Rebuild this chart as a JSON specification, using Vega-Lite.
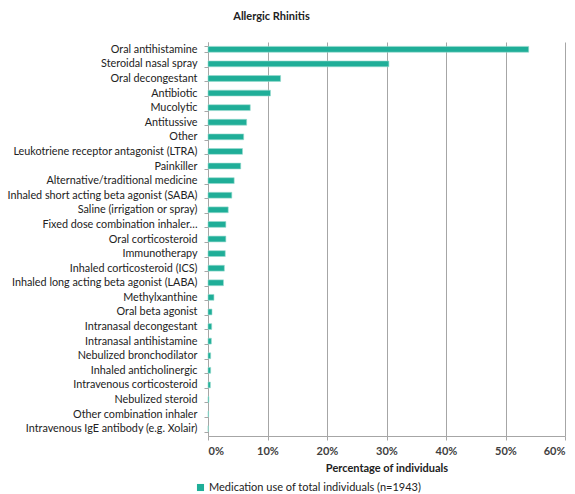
{
  "$schema": "https://vega.github.io/schema/vega-lite/v6.json",
  "width": 357,
  "height": 394,
  "autosize": {"type": "none"},
  "padding": {"left": 208, "top": 42, "right": 10, "bottom": 58},
  "background": "white",
  "title": {"text": "Allergic Rhinitis", "anchor": "middle", "dx": -115, "offset": 14, "font": "Lato", "fontSize": 11, "fontWeight": "bold", "color": "#222222"},
  "data": {"values": [
    {"medication": "Oral antihistamine", "pct": 53.9},
    {"medication": "Steroidal nasal spray", "pct": 30.4},
    {"medication": "Oral decongestant", "pct": 12.2},
    {"medication": "Antibiotic", "pct": 10.5},
    {"medication": "Mucolytic", "pct": 7.1},
    {"medication": "Antitussive", "pct": 6.5},
    {"medication": "Other", "pct": 6.0},
    {"medication": "Leukotriene receptor antagonist (LTRA)", "pct": 5.8},
    {"medication": "Painkiller", "pct": 5.5},
    {"medication": "Alternative/traditional medicine", "pct": 4.4},
    {"medication": "Inhaled short acting beta agonist (SABA)", "pct": 4.0},
    {"medication": "Saline (irrigation or spray)", "pct": 3.4},
    {"medication": "Fixed dose combination inhaler…", "pct": 3.0},
    {"medication": "Oral corticosteroid", "pct": 3.0},
    {"medication": "Immunotherapy", "pct": 2.9},
    {"medication": "Inhaled corticosteroid (ICS)", "pct": 2.75},
    {"medication": "Inhaled long acting beta agonist (LABA)", "pct": 2.6},
    {"medication": "Methylxanthine", "pct": 1.0},
    {"medication": "Oral beta agonist", "pct": 0.67},
    {"medication": "Intranasal decongestant", "pct": 0.62},
    {"medication": "Intranasal antihistamine", "pct": 0.57},
    {"medication": "Nebulized bronchodilator", "pct": 0.45},
    {"medication": "Inhaled anticholinergic", "pct": 0.45},
    {"medication": "Intravenous corticosteroid", "pct": 0.4},
    {"medication": "Nebulized steroid", "pct": 0.15},
    {"medication": "Other combination inhaler", "pct": 0.1},
    {"medication": "Intravenous IgE antibody (e.g. Xolair)", "pct": 0.05}
  ]},
  "mark": {"type": "bar", "stroke": "#9adbd0", "strokeWidth": 0.6},
  "encoding": {
    "y": {
      "field": "medication", "type": "nominal", "sort": null,
      "scale": {"paddingInner": 0.6, "paddingOuter": 0.3},
      "axis": {"title": null, "domainColor": "#A6A6A6", "tickColor": "#A6A6A6", "tickSize": 4, "tickBand": "extent", "labelPadding": 7, "labelFont": "Lato", "labelFontSize": 10.8, "labelColor": "#222222", "labelLimit": 300, "grid": false}
    },
    "x": {
      "field": "pct", "type": "quantitative",
      "scale": {"domain": [0, 60], "nice": false},
      "axis": {"title": "Percentage of individuals", "values": [0, 10, 20, 30, 40, 50, 60], "labelExpr": "datum.value + '%'", "grid": true, "gridColor": "#A6A6A6", "domainColor": "#A6A6A6", "tickColor": "#A6A6A6", "tickSize": 4, "labelPadding": 5, "labelFont": "Lato", "labelFontSize": 11, "labelFontWeight": "bold", "labelColor": "#404040", "titleFont": "Lato", "titleFontSize": 11, "titleFontWeight": "bold", "titleColor": "#222222", "titlePadding": 6}
    },
    "color": {
      "datum": "Medication use of total individuals (n=1943)",
      "scale": {"range": ["#1FAE98"]},
      "legend": {"title": null, "orient": "none", "legendX": -13, "legendY": 440, "symbolType": "square", "symbolSize": 50, "symbolStrokeWidth": 0, "labelFont": "Lato", "labelFontSize": 11, "labelColor": "#222222", "labelOffset": 3, "labelLimit": 400}
    }
  },
  "config": {"view": {"stroke": null}}
}
